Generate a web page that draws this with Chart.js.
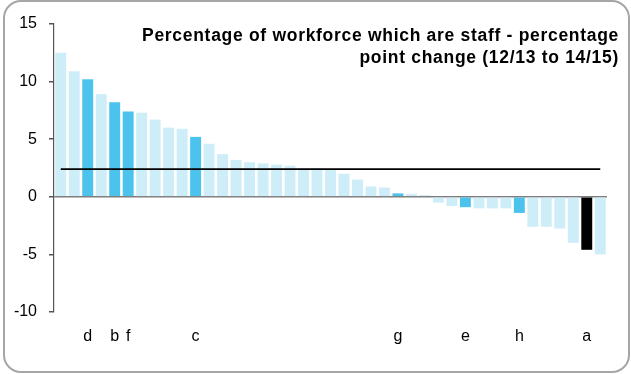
<!DOCTYPE html>
<html lang="en">
<head>
<meta charset="utf-8">
<title>Workforce staff change</title>
<style>
  body { margin: 0; background: #fff; }
  .frame {
    position: absolute; left: 3px; top: 0px; width: 623px; height: 369px;
    border: 2px solid #a6a6a6; border-radius: 18px;
  }
  .chartBox { position: absolute; left: 0; top: 0; width: 631px; height: 374px; }
</style>
</head>
<body>

<div class="frame"></div>
<div class="chartBox">
  <canvas id="myChart" width="631" height="374"></canvas>
</div>

<script src="https://cdn.jsdelivr.net/npm/chart.js@4.4.0/dist/chart.umd.min.js"></script>
<script>
// categories (only the highlighted ones carry a letter)
const labels = ['', '', 'd', '', 'b', 'f', '', '', '', '', 'c', '', '', '', '', '', '', '', '', '', '',
                '', '', '', '', 'g', '', '', '', '', 'e', '', '', '', 'h', '', '', '', '', 'a', ''];

// percentage point change 12/13 to 14/15
const values = [12.5, 10.9, 10.2, 8.9, 8.2, 7.4, 7.3, 6.7, 6.0, 5.9, 5.2, 4.6, 3.7, 3.2, 3.0, 2.9, 2.8, 2.7, 2.5, 2.5, 2.4,
                2.0, 1.5, 0.9, 0.8, 0.3, 0.25, 0.15, -0.5, -0.8, -0.9, -1.0, -1.0, -1.0, -1.4, -2.6, -2.6, -2.75, -4.0, -4.6, -5.0];

// average line
const average = 2.4;

const yTicks = [-10, -5, 0, 5, 10, 15];

const barColors = labels.map(function(l){
  if (l === 'a') return '#000000';
  if (l !== '') return '#4bc3ec';
  return '#cdedf9';
});

const FONT = "'Liberation Sans', Arial, sans-serif";

// title drawn in the top right of the plot
const titleText = {
  id: 'titleText',
  afterDraw: (chart) => {
    const { ctx } = chart;
    ctx.save();
    ctx.fillStyle = '#000';
    ctx.font = 'bold 17.5px ' + FONT;
    ctx.letterSpacing = '0.7px';
    ctx.textAlign = 'right';
    ctx.textBaseline = 'alphabetic';
    ctx.fillText('Percentage of workforce which are staff - percentage', 619, 41);
    ctx.fillText('point change (12/13 to 14/15)', 619, 63);
    ctx.restore();
  }
};

const ctx = document.getElementById('myChart').getContext('2d');
const myChart = new Chart(ctx, {
  data: {
    labels: labels,
    datasets: [{
      type: 'line',
      data: labels.map(() => average),
      borderColor: '#000',
      borderWidth: 1.6,
      pointRadius: 0,
      order: 0
    }, {
      type: 'bar',
      data: values,
      backgroundColor: barColors,
      barPercentage: 0.81,
      categoryPercentage: 1.0,
      order: 1
    }]
  },
  options: {
    responsive: false,
    animation: false,
    layout: { padding: { top: 24, right: 24, bottom: 0, left: 0 } },
    plugins: {
      legend: { display: false },
      tooltip: { enabled: false }
    },
    scales: {
      x: {
        grid: { display: false, drawTicks: false },
        border: { display: false },
        ticks: {
          autoSkip: false, maxRotation: 0, padding: 15,
          color: '#000', font: { family: FONT, size: 16 }
        },
        afterFit: (scale) => { scale.height = 62; }
      },
      y: {
        min: -10, max: 15,
        afterBuildTicks: (scale) => { scale.ticks = yTicks.map(v => ({ value: v })); },
        grid: {
          color: (c) => c.tick && c.tick.value === 0 ? '#7f7f7f' : 'rgba(0,0,0,0)',
          lineWidth: 1.5,
          tickColor: '#555',
          tickLength: 5
        },
        border: { display: true, color: '#555', width: 1.2 },
        ticks: { padding: 12, color: '#000', font: { family: FONT, size: 16 } },
        afterFit: (scale) => { scale.width = 54; }
      }
    }
  },
  plugins: [titleText]
});
</script>
</body>
</html>
